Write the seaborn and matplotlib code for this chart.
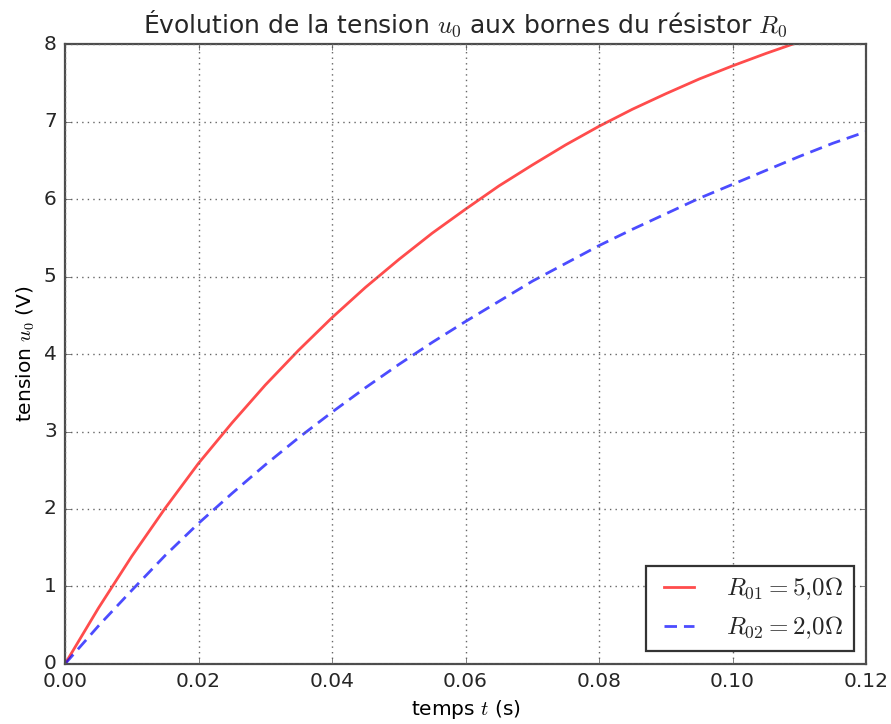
import matplotlib
matplotlib.use("Agg")
import matplotlib.pyplot as plt
import seaborn as sns
import pandas as pd

# ----------------------------------------
# Data
# ----------------------------------------

temps = [0.000, 0.005, 0.010, 0.015, 0.020, 0.025, 0.030, 0.035, 0.040, 0.045,
         0.050, 0.055, 0.060, 0.065, 0.070, 0.075, 0.080, 0.085, 0.090, 0.095,
         0.100, 0.105, 0.110, 0.115, 0.120]

# R01 = 5,0 ohm (red, solid)
u_r01 = [0.00, 0.72, 1.39, 2.01, 2.59, 3.11, 3.60, 4.05, 4.47, 4.86,
         5.22, 5.56, 5.87, 6.17, 6.44, 6.70, 6.94, 7.16, 7.36, 7.55,
         7.72, 7.88, 8.03, 8.17, 8.30]

# R02 = 2,0 ohm (blue, dashed)
u_r02 = [0.00, 0.49, 0.95, 1.40, 1.815, 2.20, 2.57, 2.92, 3.25, 3.565,
         3.865, 4.15, 4.42, 4.68, 4.94, 5.17, 5.40, 5.61, 5.81, 6.01,
         6.19, 6.37, 6.55, 6.72, 6.87]

labels = [r"$R_{01}=5{,}0\Omega$", r"$R_{02}=2{,}0\Omega$"]
xticks = [0.00, 0.02, 0.04, 0.06, 0.08, 0.10, 0.12]
xtick_labels = ["0.00", "0.02", "0.04", "0.06", "0.08", "0.10", "0.12"]

df = pd.DataFrame({"t": temps, "r01": u_r01, "r02": u_r02})

# ----------------------------------------
# Style
# ----------------------------------------

plt.style.use("classic")
plt.rcParams["mathtext.fontset"] = "cm"
plt.rcParams["font.family"] = ["DejaVu Sans"]
plt.rcParams["text.color"] = "0.15"

fig = plt.figure(figsize=(8.91, 7.24), dpi=100)
fig.patch.set_facecolor("white")
ax = fig.add_axes([0.073, 0.083, 0.899, 0.856])

sns.lineplot(data=df, x="t", y="r01", ax=ax, color="red", alpha=0.7,
             linewidth=2, label=labels[0])
sns.lineplot(data=df, x="t", y="r02", ax=ax, color="blue", alpha=0.7,
             linewidth=2, linestyle="--", label=labels[1])
ax.lines[1].set_dashes([9, 5])

ax.set_xlim(0, 0.12)
ax.set_ylim(0, 8)
ax.set_xticks(xticks)
ax.set_xticklabels(xtick_labels)
ax.set_yticks(range(0, 9))
ax.tick_params(labelsize=14.5, colors="0.3", labelcolor="0.15", pad=6)
for s in ax.spines.values():
    s.set_color("0.3")
    s.set_linewidth(1.6)
ax.grid(True, color="0.4", linestyle=":", linewidth=1)

ax.set_title(r"Évolution de la tension $u_0$ aux bornes du résistor $R_0$",
             fontsize=18, pad=8)
ax.set_xlabel(r"temps $t$ (s)", fontsize=14.5)
ax.set_ylabel(r"tension $u_0$ (V)", fontsize=14.5)

leg = ax.legend(loc="lower right", fontsize=18, fancybox=False,
                handlelength=1.8, handletextpad=1.0)
leg.get_frame().set_edgecolor("0.2")
leg.get_frame().set_linewidth(1.6)

fig.savefig("out.png", dpi=100, facecolor="white")
